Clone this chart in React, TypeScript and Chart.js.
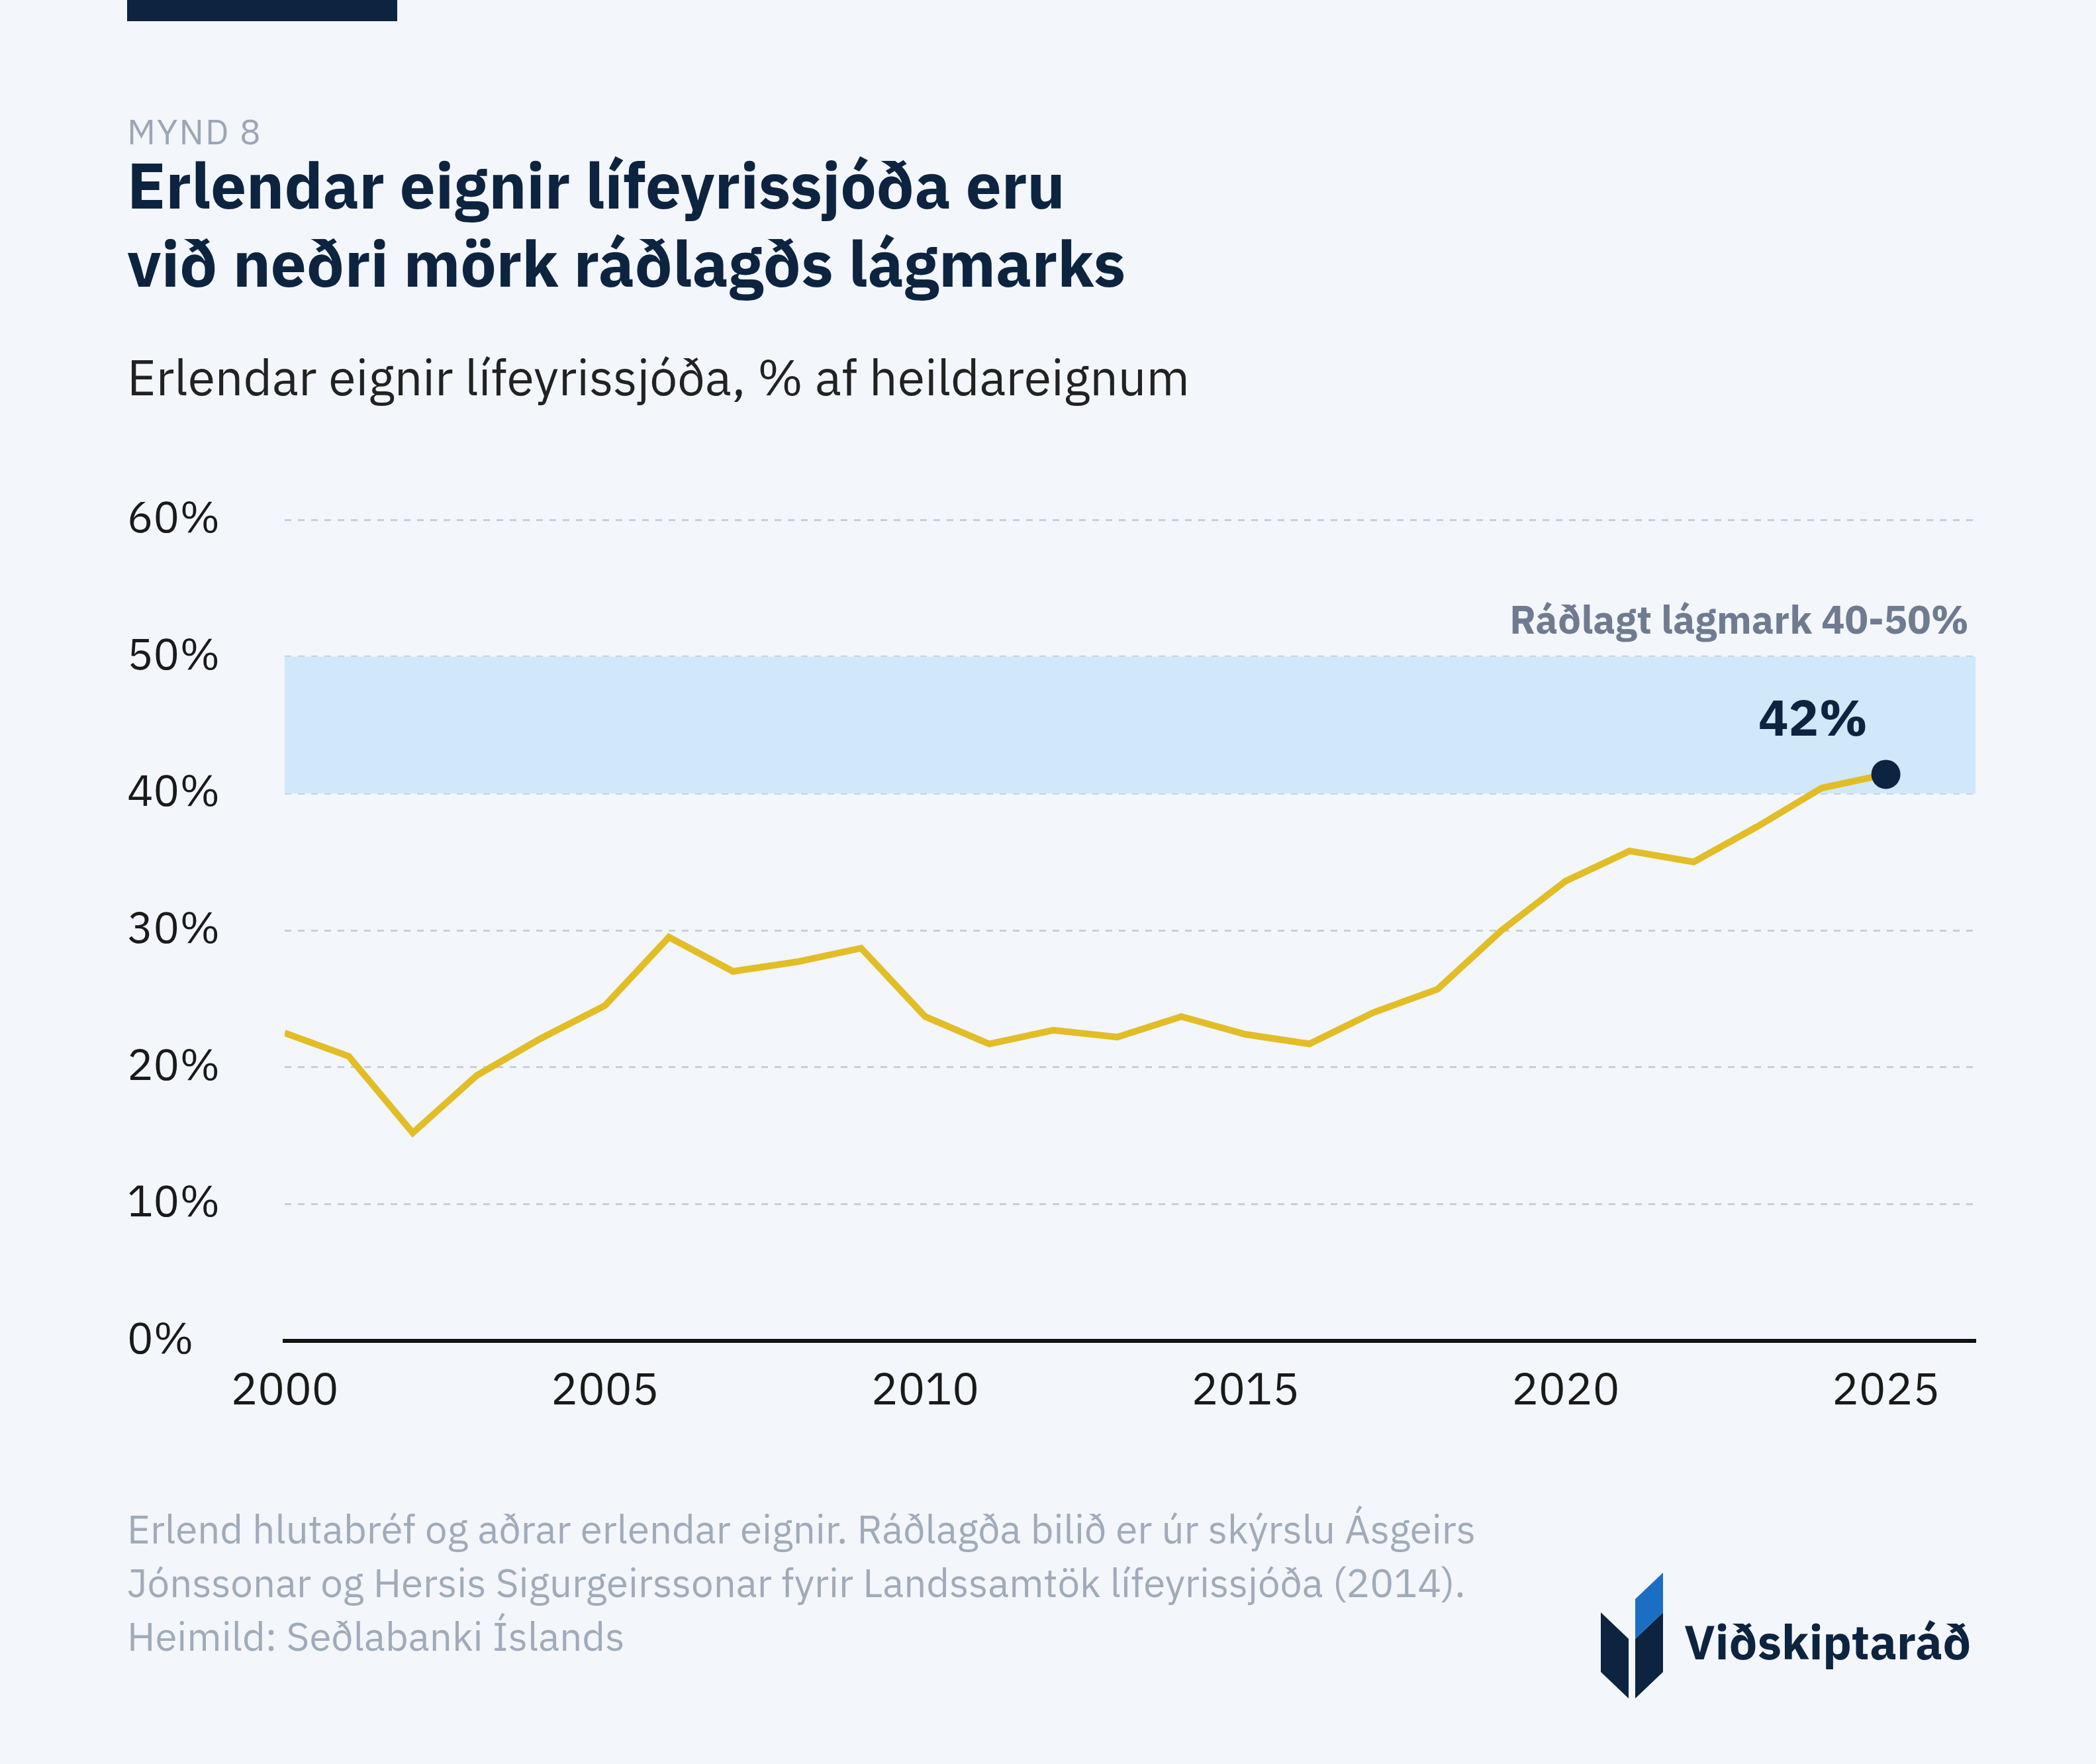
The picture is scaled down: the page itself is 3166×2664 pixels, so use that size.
import React, { useEffect, useRef } from "react";
import { Chart, registerables } from "chart.js";
Chart.register(...registerables);

const years = [2000,2001,2002,2003,2004,2005,2006,2007,2008,2009,2010,2011,2012,2013,2014,2015,2016,2017,2018,2019,2020,2021,2022,2023,2024,2025];
const shares = [22.5,20.8,15.2,19.4,22.1,24.5,29.5,27.0,27.7,28.7,23.7,21.7,22.7,22.2,23.7,22.4,21.7,24.0,25.7,30.0,33.6,35.8,35.0,37.6,40.4,41.4];
const xTicks = [2000, 2005, 2010, 2015, 2020, 2025];
const bandLow = 40;
const bandHigh = 50;
const bandLabel = "Ráðlagt lágmark 40-50%";
const endLabel = "42%";
const FONT = "'IBM Plex Sans', 'Noto Sans', sans-serif";

const overlay = {
  id: "overlay",
  beforeDatasetsDraw(chart: any) {
    const { ctx, chartArea, scales } = chart;
    const y1 = scales.y.getPixelForValue(bandHigh);
    const y0 = scales.y.getPixelForValue(bandLow);
    ctx.save();
    ctx.fillStyle = "#d0e8fa";
    ctx.fillRect(chartArea.left, y1, chartArea.right - chartArea.left, y0 - y1);
    ctx.fillStyle = "#6f7b90";
    ctx.font = `bold 59px ${FONT}`;
    ctx.textAlign = "right";
    ctx.textBaseline = "bottom";
    ctx.fillText(bandLabel, chartArea.right - 10, y1 - 22);
    ctx.restore();
  },
  afterDatasetsDraw(chart: any) {
    const { ctx, scales } = chart;
    const last = shares.length - 1;
    const x = scales.x.getPixelForValue(years[last]);
    const y = scales.y.getPixelForValue(shares[last]);
    ctx.save();
    ctx.fillStyle = "#0d2440";
    ctx.beginPath();
    ctx.arc(x, y, 22, 0, Math.PI * 2);
    ctx.fill();
    ctx.font = `bold 76px ${FONT}`;
    ctx.textAlign = "center";
    ctx.textBaseline = "bottom";
    ctx.fillText(endLabel, x - 110, y - 42);
    ctx.restore();
  },
};

function ChartBox() {
  const ref = useRef<HTMLCanvasElement>(null);
  useEffect(() => {
    const c = new Chart(ref.current!, {
      type: "line",
      data: {
        datasets: [{
          data: years.map((y, i) => ({ x: y, y: shares[i] })),
          borderColor: "#e2bd26",
          borderWidth: 10,
          pointRadius: 0,
          tension: 0,
        }],
      },
      options: {
        animation: false,
        responsive: false,
        devicePixelRatio: 1,
        layout: { padding: { top: 85, right: 4, left: 0, bottom: 0 } },
        plugins: { legend: { display: false }, tooltip: { enabled: false } },
        scales: {
          x: {
            type: "linear", min: 2000, max: 2026.4,
            afterBuildTicks: (s: any) => { s.ticks = xTicks.map((v) => ({ value: v })); },
            afterFit: (s: any) => { s.height = 174; },
            grid: { display: false, drawTicks: false },
            border: { color: "#111", width: 6 },
            ticks: { color: "#1a1a1a", font: { family: FONT, size: 68 }, padding: 36, maxRotation: 0, autoSkip: false, callback: (v: any) => String(v) },
          },
          y: {
            min: 0, max: 60,
            afterFit: (s: any) => { s.width = 238; },
            grid: { color: "#c9cfd8", lineWidth: 3, drawTicks: false },
            border: { display: false, dash: [10, 10] },
            ticks: { stepSize: 10, color: "#1a1a1a", font: { family: FONT, size: 66 }, crossAlign: "far", padding: 0, callback: (v: any) => v + "%" },
          },
        },
      },
      plugins: [overlay],
    });
    return () => c.destroy();
  }, []);
  return <canvas ref={ref} width={2796} height={1499} style={{ position: "absolute", left: 192, top: 700 }} />;
}

export default function App() {
  const abs = (s: any) => ({ position: "absolute" as const, margin: 0, fontFamily: FONT, ...s });
  return (
    <div style={{ position: "fixed", left: 0, top: 0, width: 3166, height: 2664, background: "#f3f6fb", overflow: "hidden" }}>
      <div style={abs({ left: 192, top: 0, width: 408, height: 32, background: "#0d2440" })} />
      <div style={abs({ left: 192, top: 164, fontSize: 53, color: "#9ba6b6", letterSpacing: 2 })}>MYND 8</div>
      <div style={abs({ left: 192, top: 220, fontSize: 96, fontWeight: 700, color: "#0d2440", lineHeight: "118px" })}>
        Erlendar eignir lífeyrissjóða eru<br />við neðri mörk ráðlagðs lágmarks
      </div>
      <div style={abs({ left: 192, top: 520, fontSize: 75, color: "#222" })}>Erlendar eignir lífeyrissjóða, % af heildareignum</div>
      <ChartBox />
      <div style={abs({ left: 192, top: 2268, fontSize: 60, color: "#a0abba", lineHeight: "81px" })}>
        Erlend hlutabréf og aðrar erlendar eignir. Ráðlagða bilið er úr skýrslu Ásgeirs<br />
        Jónssonar og Hersis Sigurgeirssonar fyrir Landssamtök lífeyrissjóða (2014).<br />
        Heimild: Seðlabanki Íslands
      </div>
      <svg style={{ position: "absolute", left: 2410, top: 2375 }} width={110} height={200} viewBox="0 0 110 200">
        <path d="M8 60 L50 100 L50 190 L8 150 Z" fill="#0d2440" />
        <path d="M102 60 L60 100 L60 190 L102 150 Z" fill="#0d2440" />
        <path d="M60 40 L102 0 L102 60 L60 100 Z" fill="#1a6fc4" />
      </svg>
      <div style={abs({ left: 2544, top: 2432, fontSize: 72, fontWeight: 700, color: "#0d2440" })}>Viðskiptaráð</div>
    </div>
  );
}
